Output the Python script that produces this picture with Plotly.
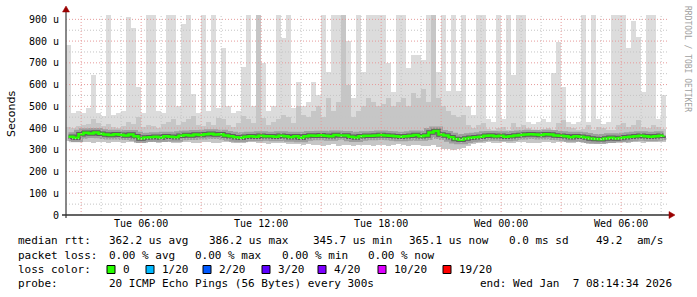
import plotly.graph_objects as go
import pandas as pd

# ---------------- data (values in microseconds) ----------------
start_time = "2026-01-06 02:14:34"
end_time = "2026-01-07 08:14:34"
step_minutes = 15

median_rtt = [
    360, 355, 372, 378, 375, 380, 374, 370, 368, 372,
    369, 366, 370, 362, 352, 356, 358, 360, 356, 362,
    360, 358, 364, 368, 366, 370, 368, 372, 374, 370,
    372, 366, 362, 358, 355, 360, 362, 360, 364, 362,
    362, 360, 364, 362, 358, 362, 355, 362, 366, 364,
    367, 365, 362, 368, 366, 366, 360, 356, 362, 365,
    364, 366, 368, 366, 364, 362, 360, 362, 364, 368,
    362, 366, 380, 386, 370, 366, 358, 350, 346, 352,
    355, 358, 360, 364, 366, 362, 364, 360, 362, 366,
    368, 370, 372, 370, 368, 372, 370, 366, 364, 362,
    358, 362, 360, 356, 352, 350, 348, 352, 355, 352,
    354, 358, 360, 362, 364, 362, 360, 362, 364, 365,
]

ping_max = [
    780, 470, 480, 470, 490, 643, 470, 455, 920, 460,
    470, 480, 909, 858, 588, 470, 920, 920, 480, 470,
    920, 920, 500, 880, 920, 555, 470, 920, 480, 920,
    490, 767, 500, 470, 480, 680, 920, 500, 920, 698,
    480, 500, 920, 813, 920, 490, 610, 500, 520, 610,
    551, 920, 657, 920, 920, 920, 800, 540, 920, 657,
    920, 920, 920, 920, 698, 565, 920, 920, 675, 735,
    735, 715, 920, 920, 657, 920, 570, 920, 570, 920,
    500, 460, 920, 920, 440, 430, 920, 440, 920, 643,
    920, 920, 430, 420, 430, 440, 430, 652, 794, 590,
    430, 420, 430, 920, 430, 920, 440, 420, 430, 920,
    920, 920, 766, 891, 817, 565, 920, 920, 440, 551,
]

ping_mid = [
    405, 400, 410, 415, 420, 440, 425, 410, 420, 405,
    400, 410, 430, 420, 450, 405, 415, 410, 400, 420,
    430, 440, 415, 430, 440, 455, 415, 410, 430, 415,
    445, 440, 415, 405, 425, 455, 440, 425, 920, 445,
    415, 430, 440, 460, 450, 425, 500, 460, 450, 480,
    500, 450, 540, 480, 520, 920, 600, 450, 480, 500,
    540, 520, 500, 510, 540, 500, 520, 540, 500, 560,
    540, 580, 520, 920, 540, 500, 480, 460, 450, 460,
    415, 400, 415, 425, 395, 390, 400, 405, 390, 425,
    405, 415, 400, 390, 390, 395, 400, 390, 425, 435,
    405, 400, 390, 395, 415, 390, 405, 400, 390, 390,
    415, 425, 405, 415, 435, 405, 400, 415, 405, 395,
]

ping_min = [
    340, 338, 335, 336, 334, 332, 335, 336, 330, 334,
    335, 333, 336, 334, 330, 332, 334, 335, 333, 336,
    334, 330, 332, 334, 335, 333, 332, 334, 336, 330,
    332, 334, 335, 333, 330, 332, 334, 335, 330, 332,
    328, 330, 332, 330, 325, 328, 326, 322, 325, 320,
    322, 318, 320, 325, 318, 320, 322, 318, 320, 324,
    320, 318, 322, 320, 318, 322, 325, 320, 318, 322,
    320, 318, 316, 320, 312, 305, 302, 300, 305, 310,
    318, 325, 330, 332, 334, 330, 332, 334, 330, 332,
    334, 335, 333, 330, 332, 334, 335, 333, 336, 334,
    330, 332, 334, 330, 328, 326, 325, 328, 330, 332,
    334, 335, 333, 336, 334, 332, 335, 336, 334, 335,
]

y_tick_values = [0, 100, 200, 300, 400, 500, 600, 700, 800, 900]
y_tick_labels = ["0", "100 u", "200 u", "300 u", "400 u", "500 u",
                 "600 u", "700 u", "800 u", "900 u"]
x_tick_values = ["2026-01-06 06:00", "2026-01-06 12:00", "2026-01-06 18:00",
                 "2026-01-07 00:00", "2026-01-07 06:00"]
x_tick_labels = ["Tue 06:00", "Tue 12:00", "Tue 18:00", "Wed 00:00", "Wed 06:00"]

loss_labels = ["0", "1/20", "2/20", "3/20", "4/20", "10/20", "19/20"]
loss_colors = ["#26ff00", "#00b8ff", "#0059ff", "#5e00ff", "#7e00ff", "#dd00ff", "#ff0000"]

# ---------------- layout geometry ----------------
W, H = 697, 297
L, R, T, B = 66, 31, 15, 82
PW, PH = W - L - R, H - T - B


def px(x):
    return (x - L) / PW


def py(y):
    return (T + PH - y) / PH


t0 = pd.Timestamp(start_time)
t1 = pd.Timestamp(end_time)
step = pd.Timedelta(minutes=step_minutes)
centers = [t0 + step * (i + 0.5) for i in range(len(median_rtt))]
bar_w = step_minutes * 60 * 1000

fig = go.Figure()
fig.add_trace(go.Bar(
    x=centers, y=[a - b for a, b in zip(ping_max, ping_min)], base=ping_min,
    width=bar_w, marker=dict(color="#dcdcdc", line=dict(width=0)),
    hoverinfo="skip", showlegend=False))
fig.add_trace(go.Bar(
    x=centers, y=[a - b for a, b in zip(ping_mid, ping_min)], base=ping_min,
    width=bar_w, marker=dict(color="#c6c6c6", line=dict(width=0)),
    hoverinfo="skip", showlegend=False))
fig.add_trace(go.Scatter(
    x=centers, y=median_rtt, mode="lines",
    line=dict(color="rgba(70,70,70,0.30)", width=9, shape="hv"),
    hoverinfo="skip", showlegend=False))
fig.add_trace(go.Scatter(
    x=centers, y=median_rtt, mode="lines",
    line=dict(color="rgba(40,40,40,0.55)", width=4.5, shape="hv"),
    hoverinfo="skip", showlegend=False))
fig.add_trace(go.Scatter(
    x=centers, y=median_rtt, mode="lines",
    line=dict(color=loss_colors[0], width=2.5, shape="hv"),
    hoverinfo="skip", showlegend=False))

shapes = []
# grid (drawn above the data, like rrdtool)
hours = pd.date_range(t0.ceil("h"), t1, freq="h")
for h in hours:
    red = h.hour % 3 == 0
    shapes.append(dict(type="line", xref="x", yref="paper", x0=h, x1=h, y0=0, y1=1,
                       layer="above",
                       line=dict(color="#e69a9a" if red else "#c4c4c4", width=1, dash="1px,2px")))
for v in range(50, 901, 50):
    red = v % 100 == 0
    shapes.append(dict(type="line", xref="paper", yref="y", x0=0, x1=px(668), y0=v, y1=v,
                       layer="above",
                       line=dict(color="#e69a9a" if red else "#c4c4c4", width=1, dash="1px,2px")))
# axes lines with arrows
shapes.append(dict(type="line", xref="paper", yref="paper", x0=px(66), x1=px(66),
                   y0=py(218), y1=py(10), layer="above", line=dict(color="#606060", width=1.5)))
shapes.append(dict(type="line", xref="paper", yref="paper", x0=px(62), x1=px(670),
                   y0=py(215), y1=py(215), layer="above", line=dict(color="#303030", width=1.5)))
shapes.append(dict(type="path", xref="paper", yref="paper", layer="above",
                   path=f"M {px(62.5)},{py(12)} L {px(69.5)},{py(12)} L {px(66)},{py(6)} Z",
                   fillcolor="#9a0000", line=dict(color="#9a0000", width=0.5)))
shapes.append(dict(type="path", xref="paper", yref="paper", layer="above",
                   path=f"M {px(669)},{py(211.5)} L {px(669)},{py(218.5)} L {px(675)},{py(215)} Z",
                   fillcolor="#9a0000", line=dict(color="#9a0000", width=0.5)))

annotations = []
mono = "DejaVu Sans Mono"


def txt(x, y, s, size=11, color="#000", **kw):
    annotations.append(dict(xref="paper", yref="paper", x=px(x), y=py(y), text=s.replace(" ", "\u00a0"),
                            showarrow=False, xanchor="left", yanchor="middle",
                            font=dict(family=mono, size=size, color=color), **kw))


# legend / statistics text
txt(16, 241, "median rtt:")
txt(107, 241, "362.2 us avg")
txt(207, 241, "386.2 us max")
txt(311, 241, "345.7 us min")
txt(407, 241, "365.1 us now")
txt(507, 241, "0.0 ms sd")
txt(594, 241, "49.2")
txt(635, 241, "am/s")

txt(16, 255, "packet loss:")
txt(107, 255, "0.00 % avg")
txt(193, 255, "0.00 % max")
txt(280, 255, "0.00 % min")
txt(366, 255, "0.00 % now")

txt(16, 269, "loss color:")
sq_x = [107, 146, 203, 262, 318, 378, 443]
for sx, lab, col in zip(sq_x, loss_labels, loss_colors):
    shapes.append(dict(type="rect", xref="paper", yref="paper",
                       x0=px(sx), x1=px(sx + 8), y0=py(273.5), y1=py(265.5),
                       fillcolor=col, line=dict(color="#000", width=1)))
    txt(sx + 14, 269, lab)

txt(16, 283.5, "probe:")
txt(107, 283.5, "20 ICMP Echo Pings (56 Bytes) every 300s")
txt(478, 283.5, "end: Wed Jan  7 08:14:34 2026")

annotations.append(dict(xref="paper", yref="paper", x=px(11), y=py(114), text="Seconds",
                        showarrow=False, textangle=-90, xanchor="center", yanchor="middle",
                        font=dict(family="DejaVu Sans", size=11, color="#000")))
annotations.append(dict(xref="paper", yref="paper", x=px(687), y=py(59),
                        text="RRDTOOL / TOBI OETIKER", showarrow=False, textangle=90,
                        xanchor="center", yanchor="middle",
                        font=dict(family=mono, size=8, color="#a0a0a0")))

fig.update_layout(
    width=W, height=H,
    margin=dict(l=L, r=R, t=T, b=B, autoexpand=False),
    paper_bgcolor="#ffffff", plot_bgcolor="#ffffff",
    barmode="overlay", bargap=0,
    showlegend=False,
    shapes=shapes, annotations=annotations,
    xaxis=dict(type="date", range=[t0, t1], showgrid=False, zeroline=False, showline=False,
               tickvals=x_tick_values, ticktext=x_tick_labels, ticks="",
               ticklabelstandoff=1,
               tickfont=dict(family=mono, size=10, color="#000")),
    yaxis=dict(range=[0, 920], showgrid=False, zeroline=False, showline=False,
               tickvals=y_tick_values, ticktext=y_tick_labels, ticks="",
               ticklabelstandoff=6,
               tickfont=dict(family=mono, size=10, color="#000")),
)

fig.write_html("out.html")
